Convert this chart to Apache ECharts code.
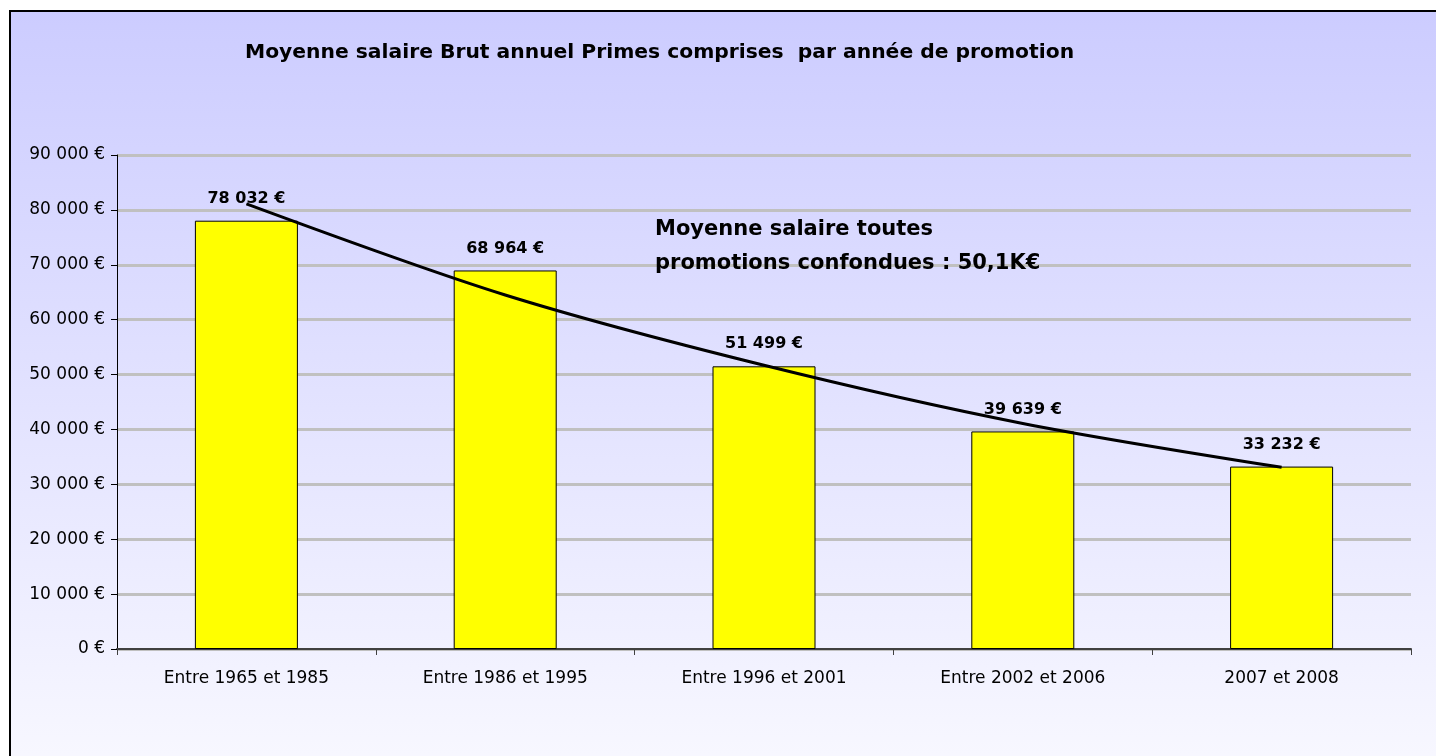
<!DOCTYPE html>
<html>
<head>
<meta charset="utf-8">
<script src="https://cdn.jsdelivr.net/npm/echarts@6/dist/echarts.min.js"></script>
<style>
html,body{margin:0;padding:0;background:#fff;}
#chart{width:1436px;height:756px;}
</style>
</head>
<body>
<div id="chart"></div>
<script>
const categories = ['Entre 1965 et 1985','Entre 1986 et 1995','Entre 1996 et 2001','Entre 2002 et 2006','2007 et 2008'];
const salaries = [78032, 68964, 51499, 39639, 33232];
const trend = [81100, 64500, 51700, 41100, 33100];
const titleText = 'Moyenne salaire Brut annuel Primes comprises  par année de promotion';
const noteText = 'Moyenne salaire toutes\npromotions confondues : 50,1K€';

const FONT = 'DejaVu Sans';
function euro(v){ return String(v).replace(/\B(?=(\d{3})+(?!\d))/g,' ') + ' €'; }

const chart = echarts.init(document.getElementById('chart'), null, {renderer:'canvas'});
chart.setOption({
  backgroundColor: '#ffffff',
  animation: false,
  graphic: [{
    type: 'rect', z: -100, silent: true,
    shape: {x: 10, y: 11, width: 1440, height: 760},
    style: {
      fill: new echarts.graphic.LinearGradient(0,0,0,1,[
        {offset:0, color:'#ccccff'},
        {offset:1, color:'#f8f8ff'}
      ]),
      stroke: '#000', lineWidth: 2
    }
  }],
  title: [{
    text: titleText, left: 240, top: 37,
    textStyle: {fontFamily: FONT, fontWeight: 'bold', fontSize: 20.3, color: '#000', lineHeight: 22}
  },{
    text: noteText, left: 650, top: 208,
    textStyle: {fontFamily: FONT, fontWeight: 'bold', fontSize: 21, color: '#000', lineHeight: 34}
  }],
  grid: {left: 117, right: 25, top: 155, bottom: 107, containLabel: false},
  xAxis: {
    type: 'category', data: categories, boundaryGap: true,
    axisLine: {show: true, lineStyle: {color: '#404040', width: 2}},
    axisTick: {show: true, inside: false, length: 6, lineStyle: {color: '#404040', width: 1}},
    axisLabel: {fontFamily: FONT, fontSize: 17, color: '#000', margin: 21, interval: 0},
    splitLine: {show: false}
  },
  yAxis: {
    type: 'value', min: 0, max: 90000, interval: 10000,
    axisLine: {show: true, lineStyle: {color: '#000', width: 1}},
    axisTick: {show: true, inside: false, length: 6, lineStyle: {color: '#000'}},
    axisLabel: {fontFamily: FONT, fontSize: 17, color: '#000', margin: 12, formatter: euro},
    splitLine: {show: true, lineStyle: {color: '#c0c0c0', width: 3}}
  },
  series: [{
    type: 'bar', data: salaries, barWidth: 103,
    itemStyle: {color: '#ffff00', borderColor: '#000', borderWidth: 1},
    label: {show: true, position: 'top', distance: 14, fontFamily: FONT, fontWeight: 'bold', fontSize: 16, color: '#000',
      formatter: p => euro(p.value)}
  },{
    type: 'line', data: trend, smooth: 0.3, symbol: 'none', z: 5,
    lineStyle: {color: '#000', width: 3}
  }]
});
</script>
</body>
</html>
